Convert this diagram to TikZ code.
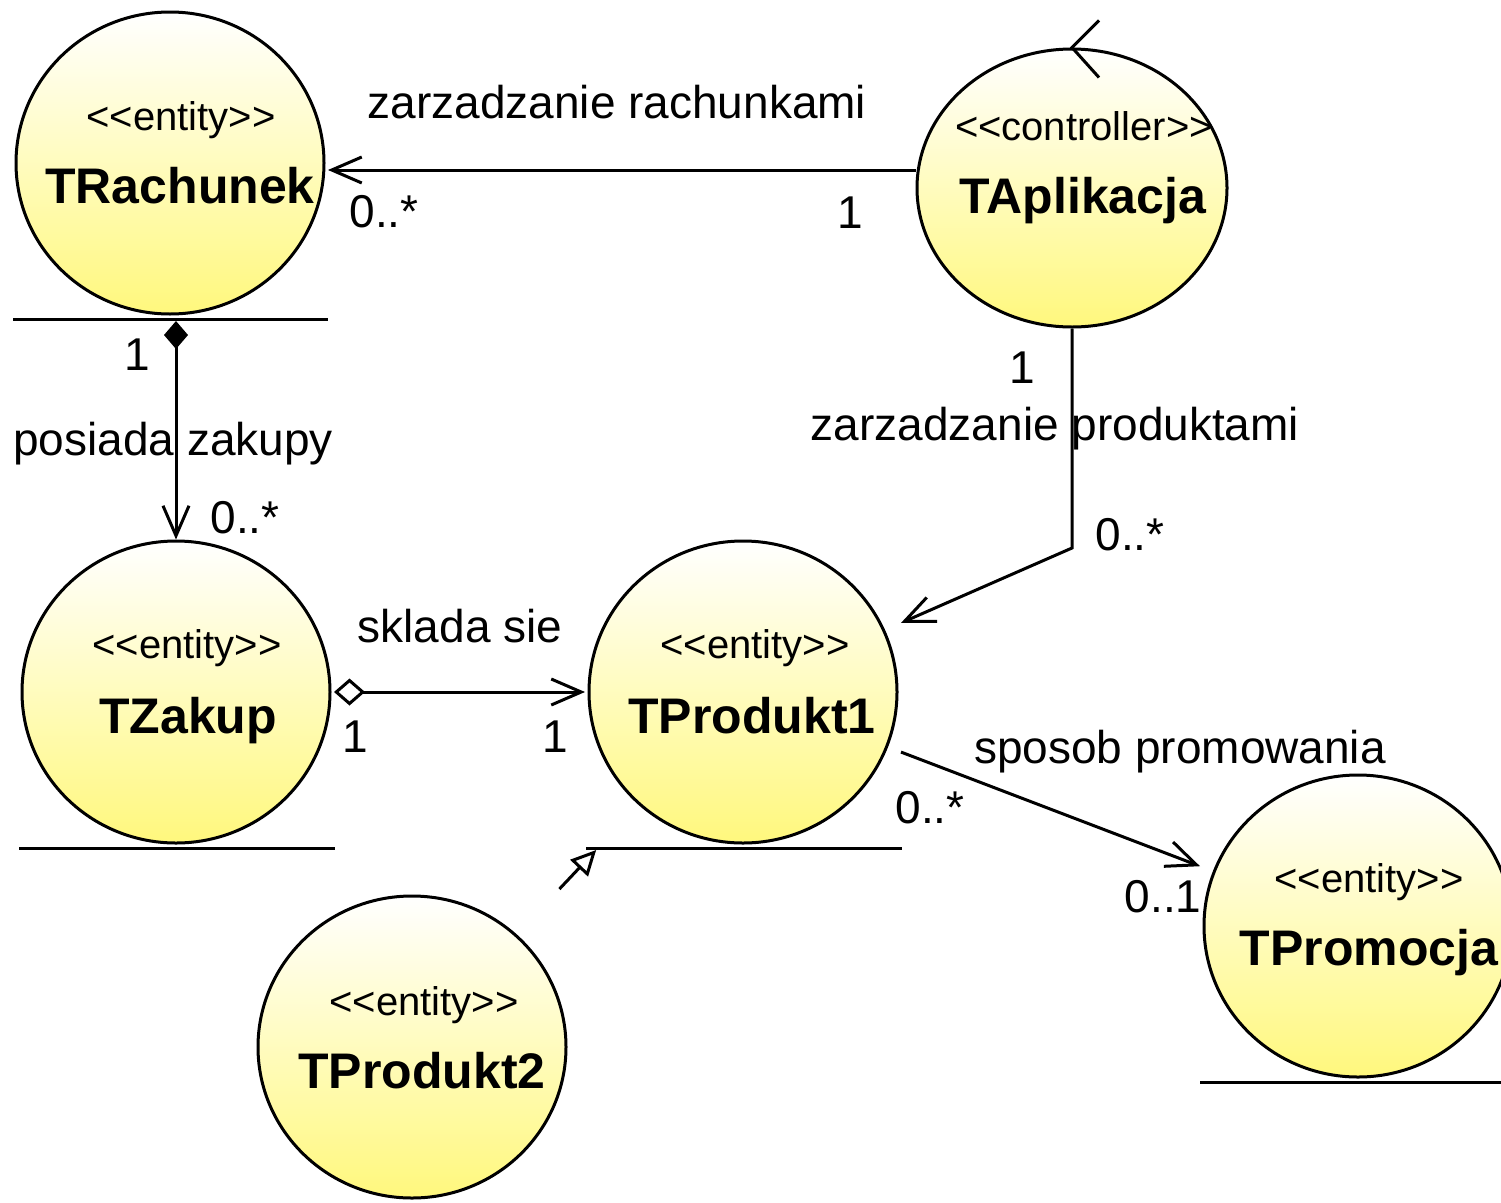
\documentclass[tikz,border=0pt]{standalone}
\usepackage{fontspec}
\setmainfont{Liberation Sans}
\usetikzlibrary{arrows.meta,shapes.geometric}
\definecolor{entbot}{RGB}{255,248,125}
% guillemet-free stereotype brackets (keep TeX ligature mapping from merging << and >>)
\newcommand{\stereotxt}[1]{<\kern0pt<#1>\kern0pt>}
\begin{document}
\begin{tikzpicture}[x=1pt,y=-1pt,
  ball/.style={ellipse, draw=black, line width=3pt, top color=white, bottom color=entbot,
    minimum width=308pt, minimum height=302pt, inner sep=0pt},
  ctrlball/.style={ball, minimum width=310pt, minimum height=278pt},
  bbox/.style={rectangle, draw=none, minimum width=316pt, minimum height=316pt, inner sep=0pt, outer sep=0pt},
  stereo/.style={anchor=base, inner sep=0pt, font=\fontsize{40}{48}\selectfont},
  cname/.style={anchor=base, inner sep=0pt, font=\fontsize{50}{60}\selectfont\bfseries},
  lbl/.style={anchor=base, inner sep=0pt, font=\fontsize{46}{55}\selectfont},
  conn/.style={line width=3pt, draw=black},
  nav/.style={conn, -{Straight Barb[length=30pt,width=26pt]}},
  comp/.style={conn, {Diamond[length=28pt,width=24pt]}-{Straight Barb[length=30pt,width=26pt]}},
  aggr/.style={conn, {Diamond[open,length=31pt,width=27pt]}-{Straight Barb[length=30pt,width=26pt]}},
  gen/.style={conn, -{Triangle[open,length=25pt,width=24pt]}}
]
\useasboundingbox (0,0) rectangle (1501,1202);

% ---- class bodies ----
\node[ball] (rachC) at (170,163) {};
\node[bbox] (rach) at (170,163) {};
\node[ctrlball] (aplC) at (1072,188) {};
\node[bbox] (apl) at (1072,188) {};
\node[ball] (zakupC) at (176,692) {};
\node[bbox] (zakup) at (176,692) {};
\node[ball] (prod1C) at (743,692) {};
\node[bbox] (prod1) at (743,692) {};
\node[ball] (prod2C) at (412,1047) {};
\node[bbox] (prod2) at (412,1047) {};
\node[ball] (promoC) at (1358,926) {};
\node[bbox] (promo) at (1358,926) {};

% entity underlines
\draw[conn] ([shift={(-157pt,-156pt)}]rachC.center) -- ++(315pt,0pt);
\draw[conn] ([shift={(-157pt,-156pt)}]zakupC.center) -- ++(316pt,0pt);
\draw[conn] ([shift={(-157pt,-156pt)}]prod1C.center) -- ++(316pt,0pt);
\draw[conn] ([shift={(-158pt,-156pt)}]promoC.center) -- ++(316pt,0pt);

% controller arrow on top
\draw[conn] ([shift={(27pt,27pt)}]aplC.north) -- (aplC.north) -- ([shift={(27pt,-30pt)}]aplC.north);

% ---- class texts ----
\node[stereo] (rachS) at (181,130) {\stereotxt{entity}};
\node[cname] (rachN) at (180,203) {TRachunek};
\node[stereo] (aplS) at (1084,140) {\stereotxt{controller}};
\node[cname] (aplN) at (1083,213) {TAplikacja};
\node[stereo] (zakupS) at (187,658) {\stereotxt{entity}};
\node[cname] (zakupN) at (188,733) {TZakup};
\node[stereo] (prod1S) at (755,658) {\stereotxt{entity}};
\node[cname] (prod1N) at (752,733) {TProdukt1};
\node[stereo] (prod2S) at (424,1015) {\stereotxt{entity}};
\node[cname] (prod2N) at (422,1088) {TProdukt2};
\node[stereo] (promoS) at (1369,892) {\stereotxt{entity}};
\node[cname] (promoN) at (1369,965) {TPromocja};

% ---- associations ----
\coordinate (lvlA) at (0,170);
\draw[nav] (aplC.west |- lvlA) -- (rach.east |- lvlA);
\node[lbl] (l1) at (617,118) {zarzadzanie rachunkami};
\node[lbl] (l2) at (384,227) {0..*};
\node[lbl] (l3) at (850,228) {1};

\draw[comp] (zakupC.north |- rach.south) -- (zakupC.north);
\node[lbl] (l4) at (137,370) {1};
\node[lbl] (l5) at (173,455) {posiada zakupy};
\node[lbl] (l6) at (245,533) {0..*};

\coordinate (bendA) at (1075,548);
\draw[nav] (aplC.south) -- (aplC.south |- bendA) -- (prod1);
\node[lbl] (l7) at (1022,383) {1};
\node[lbl] (l8) at (1055,440) {zarzadzanie produktami};
\node[lbl] (l9) at (1130,550) {0..*};

\draw[aggr] (zakup.east) -- (prod1.west);
\node[lbl] (l10) at (460,642) {sklada sie};
\node[lbl] (l11) at (355,752) {1};
\node[lbl] (l12) at (555,752) {1};

\draw[nav] (prod1) -- (promo);
\node[lbl] (l13) at (1180,763) {sposob promowania};
\node[lbl] (l14) at (930,823) {0..*};
\node[lbl] (l15) at (1163,912) {0..1};

% generalization
\draw[gen] (prod2) -- (prod1);
\end{tikzpicture}
\end{document}
